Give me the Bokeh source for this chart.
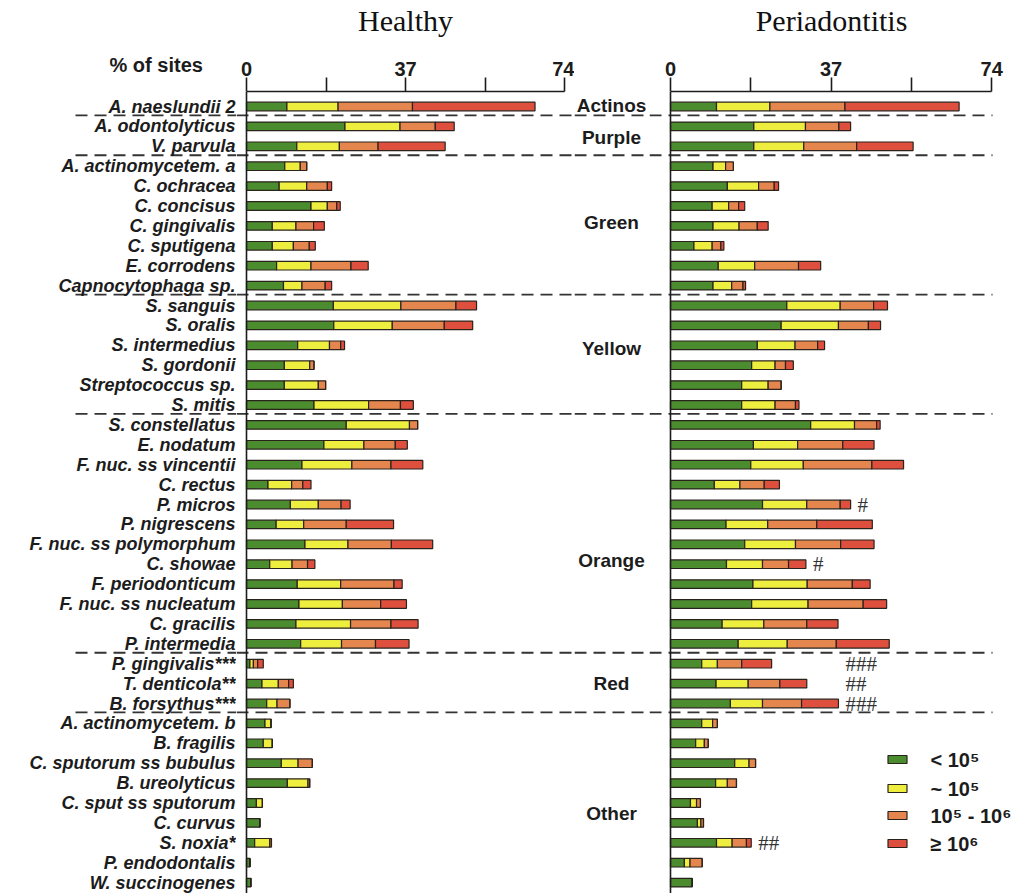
from bokeh.plotting import figure
from bokeh.models import Range1d, LinearAxis, FixedTicker, Span, ColumnDataSource
from bokeh.layouts import row
from bokeh.core.properties import value
from bokeh.embed import file_html
from bokeh.resources import INLINE

# ---------------- data ----------------
species = [
    "A. naeslundii 2", "A. odontolyticus", "V. parvula", "A. actinomycetem. a",
    "C. ochracea", "C. concisus", "C. gingivalis", "C. sputigena", "E. corrodens",
    "Capnocytophaga sp.", "S. sanguis", "S. oralis", "S. intermedius", "S. gordonii",
    "Streptococcus sp.", "S. mitis", "S. constellatus", "E. nodatum",
    "F. nuc. ss vincentii", "C. rectus", "P. micros", "P. nigrescens",
    "F. nuc. ss polymorphum", "C. showae", "F. periodonticum", "F. nuc. ss nucleatum",
    "C. gracilis", "P. intermedia", "P. gingivalis***", "T. denticola**",
    "B. forsythus***", "A. actinomycetem. b", "B. fragilis", "C. sputorum ss bubulus",
    "B. ureolyticus", "C. sput ss sputorum", "C. curvus", "S. noxia*",
    "P. endodontalis", "W. succinogenes",
]
groups = ["Actinos", "Purple", "Green", "Yellow", "Orange", "Red", "Other"]
group_sizes = [1, 2, 7, 6, 12, 3, 9]
panel_titles = ["Healthy", "Periadontitis"]
axis_title = "% of sites"
count_levels = ["< 10\u2075", "~  10\u2075", "10\u2075 - 10\u2076", "\u2265 10\u2076"]
axis_ticks = [0, 37, 74]
axis_minor_ticks = [18.5, 55.5]

# % of sites per count level, healthy subjects
healthy_lt5 = [9.4, 22.9, 11.7, 8.9, 7.6, 15.0, 6.0, 6.0, 7.0, 8.6,
               20.2, 20.3, 11.9, 8.8, 8.8, 15.7, 23.2, 18.0, 12.9, 5.0,
               10.2, 6.9, 13.6, 5.4, 11.8, 12.2, 11.5, 12.6, 0.8, 3.6,
               4.7, 4.3, 3.9, 8.1, 9.5, 2.3, 3.1, 1.9, 0.8, 1.0]
healthy_approx5 = [11.9, 12.8, 9.9, 3.6, 6.4, 3.8, 5.5, 4.9, 8.0, 4.3,
                   15.7, 13.6, 7.4, 5.9, 7.9, 12.7, 14.7, 9.3, 11.6, 5.5,
                   6.5, 6.4, 10.0, 5.2, 10.1, 10.1, 12.7, 9.5, 0.8, 3.8,
                   2.4, 1.4, 2.1, 3.9, 4.8, 1.4, 0.0, 3.5, 0.0, 0.0]
healthy_5to6 = [17.3, 8.2, 9.0, 1.5, 4.8, 2.2, 4.1, 3.7, 9.3, 5.4,
                12.8, 12.1, 2.6, 1.0, 1.7, 7.4, 1.9, 7.3, 9.1, 2.6,
                5.3, 9.9, 10.1, 3.6, 12.4, 8.9, 9.4, 7.9, 1.0, 2.4,
                3.0, 0.0, 0.0, 3.3, 0.4, 0.0, 0.0, 0.4, 0.0, 0.0]
healthy_ge6 = [28.5, 4.4, 15.6, 0.0, 1.0, 0.8, 2.5, 1.4, 4.0, 1.5,
               4.8, 6.6, 0.9, 0.0, 0.0, 3.0, 0.0, 2.8, 7.4, 1.9,
               2.1, 11.0, 9.6, 1.7, 1.9, 6.0, 6.3, 7.8, 1.3, 1.1,
               0.0, 0.0, 0.0, 0.0, 0.0, 0.0, 0.0, 0.0, 0.0, 0.0]

# % of sites per count level, periodontitis subjects
perio_lt5 = [10.6, 19.2, 19.2, 9.8, 13.1, 9.6, 9.8, 5.4, 11.0, 9.8,
             26.8, 25.5, 20.0, 18.7, 16.4, 16.4, 32.3, 19.1, 18.5, 10.1,
             21.2, 12.8, 17.1, 12.9, 19.0, 18.7, 11.9, 15.6, 7.2, 10.5,
             13.8, 7.2, 5.8, 14.8, 10.4, 4.6, 6.2, 10.6, 3.2, 5.0]
perio_approx5 = [12.3, 11.9, 11.5, 2.9, 7.2, 3.8, 6.0, 4.2, 8.4, 4.3,
                 12.3, 13.2, 8.7, 5.4, 6.1, 7.7, 10.1, 10.2, 12.1, 5.9,
                 10.2, 9.6, 11.7, 8.3, 12.5, 13.0, 9.6, 11.3, 3.6, 7.4,
                 7.4, 2.5, 2.0, 3.3, 2.7, 1.4, 0.8, 3.6, 1.3, 0.0]
perio_5to6 = [17.3, 7.7, 12.2, 1.8, 3.6, 2.3, 4.2, 2.0, 10.1, 2.6,
              7.7, 6.9, 5.2, 2.4, 3.0, 4.7, 5.1, 10.4, 15.8, 5.6,
              7.7, 11.3, 10.4, 6.0, 10.4, 12.7, 9.9, 11.3, 5.6, 7.3,
              9.0, 1.1, 0.9, 1.5, 2.1, 0.9, 0.6, 3.3, 2.8, 0.0]
perio_ge6 = [26.3, 2.7, 13.0, 0.0, 1.0, 1.4, 2.5, 0.7, 5.1, 0.6,
             3.2, 2.8, 1.6, 1.8, 0.0, 0.8, 0.8, 7.2, 7.3, 3.5,
             2.4, 12.8, 7.7, 4.0, 4.1, 5.4, 7.2, 12.2, 6.9, 6.2,
             8.5, 0.0, 0.0, 0.0, 0.0, 0.0, 0.0, 1.1, 0.0, 0.0]

# significance marks (periodontitis vs healthy)
perio_marks = {"P. micros": "#", "C. showae": "#", "P. gingivalis***": "###",
               "T. denticola**": "##", "B. forsythus***": "###", "S. noxia*": "##"}

# ---------------- layout / style ----------------
COLORS = ["#4b8c2e", "#eeee3e", "#e5864e", "#de4f3e"]
OUTLINE = "#2a231c"
INK = "#1c1c1c"
SANS = "Liberation Sans"
SERIF = "Liberation Serif"

# horizontal strips (px): species labels | healthy panel | group names | periodontitis panel
X_LAB, X_H, X_G, X_P, X_END = 0, 236, 574, 649, 1013
H_ZERO_PX, H_SCALE = 246, 4.30
P_ZERO_PX, P_SCALE = 670, 4.34
ROW0_PX, ROW_STEP = 106, 19.9
FRAME_TOP_PX, FRAME_BOTTOM_PX = 91, 893
BAR_H = 0.43
PCT_TICK = -21          # x (healthy units) where "% of sites" is centred
DASH = dict(line_color="#333333", line_width=1.8, line_dash="12 7")


def row_at(py):
    return (py - ROW0_PX) / ROW_STEP


def hx(px):
    return (px - H_ZERO_PX) / H_SCALE


def px_(px):
    return (px - P_ZERO_PX) / P_SCALE


def base_fig(x0_px, x1_px, xr):
    p = figure(width=x1_px - x0_px, height=FRAME_BOTTOM_PX, x_range=xr,
               y_range=Range1d(row_at(FRAME_BOTTOM_PX), row_at(FRAME_TOP_PX)),
               output_backend="svg", toolbar_location=None,
               x_axis_location=None, y_axis_location=None,
               min_border_left=0, min_border_right=0,
               min_border_top=FRAME_TOP_PX, min_border_bottom=0,
               outline_line_color=None, background_fill_color="white",
               border_fill_color="white")
    p.grid.visible = False
    return p


AX_STYLE = dict(major_tick_in=0, major_tick_out=14, minor_tick_in=0, minor_tick_out=14,
                major_label_standoff=2, major_label_text_font=SANS,
                major_label_text_font_style="bold", major_label_text_font_size="20px",
                major_label_text_color=INK)


def add_axis(p, title):
    ax = LinearAxis(ticker=FixedTicker(ticks=axis_ticks, minor_ticks=axis_minor_ticks),
                    bounds=(axis_ticks[0], axis_ticks[-1]),
                    axis_line_width=1.6, axis_line_color=INK,
                    major_tick_line_width=1.6, major_tick_line_color=INK,
                    minor_tick_line_width=1.6, minor_tick_line_color=INK,
                    axis_label=title, axis_label_text_font=SERIF,
                    axis_label_text_font_style="normal", axis_label_text_font_size="30px",
                    axis_label_text_color="#111111", axis_label_standoff=22, **AX_STYLE)
    p.add_layout(ax, "above")
    p.add_layout(Span(location=0, dimension="height", line_color=INK, line_width=1.6))


rows = list(range(len(species)))
sep_rows = []
acc = 0
for n in group_sizes[:-1]:
    acc += n
    sep_rows.append(acc - 0.55)
group_label_rows = [row_at(py) for py in (105, 137, 222, 348, 560, 683, 813)]


def add_bars(p, vals):
    src = ColumnDataSource(dict(row=rows, a=vals[0], b=vals[1], c=vals[2], d=vals[3]))
    p.hbar_stack(["a", "b", "c", "d"], y="row", height=BAR_H, fill_color=COLORS,
                 line_color=OUTLINE, line_width=1.2, source=src)


# ---------------- species labels strip ----------------
pL = base_fig(X_LAB, X_H, Range1d(hx(X_LAB), hx(X_H)))
ax_lab = LinearAxis(ticker=FixedTicker(ticks=[PCT_TICK], minor_ticks=[]),
                    major_label_overrides={PCT_TICK: axis_title},
                    axis_line_color=None, major_tick_line_color=None,
                    minor_tick_line_color=None, **AX_STYLE)
pL.add_layout(ax_lab, "above")
pL.segment(x0=hx(75), x1=hx(X_H), y0=sep_rows, y1=sep_rows, **DASH)
pL.text(x=hx(235), y=rows, text=species, text_align="right", text_baseline="middle",
        text_font=value(SANS), text_font_style="bold italic", text_font_size="18px",
        text_color=INK)

# ---------------- healthy panel ----------------
pH = base_fig(X_H, X_G, Range1d(hx(X_H), hx(X_G)))
add_axis(pH, panel_titles[0])
pH.segment(x0=hx(X_H), x1=hx(X_G), y0=sep_rows, y1=sep_rows, **DASH)
add_bars(pH, [healthy_lt5, healthy_approx5, healthy_5to6, healthy_ge6])

# ---------------- group names strip ----------------
pG = base_fig(X_G, X_P, Range1d(hx(X_G), hx(X_P)))
pG.segment(x0=hx(X_G), x1=hx(X_P), y0=sep_rows, y1=sep_rows, **DASH)
pG.text(x=hx(611), y=group_label_rows, text=groups, text_align="center",
        text_baseline="middle", text_font=value(SANS), text_font_style="bold",
        text_font_size="19px", text_color=INK)

# ---------------- periodontitis panel ----------------
pP = base_fig(X_P, X_END, Range1d(px_(X_P), px_(X_END)))
add_axis(pP, panel_titles[1])
pP.segment(x0=px_(X_P), x1=px_(992), y0=sep_rows, y1=sep_rows, **DASH)
pvals = [perio_lt5, perio_approx5, perio_5to6, perio_ge6]
add_bars(pP, pvals)

totals = [sum(v[i] for v in pvals) for i in rows]
red_start = sum(group_sizes[:5])
red_rows = range(red_start, red_start + group_sizes[5])
red_col = max(totals[i] for i in red_rows)
mk_x, mk_y, mk_t = [], [], []
for i, s in enumerate(species):
    if s in perio_marks:
        mk_x.append(red_col if i in red_rows else totals[i])
        mk_y.append(i)
        mk_t.append(perio_marks[s])
pP.text(x=mk_x, y=mk_y, text=mk_t, x_offset=7, text_align="left", text_baseline="middle",
        text_font=value(SERIF), text_font_size="21px", text_color="#333333")

# legend
leg_rows = [row_at(py) for py in (759, 788, 815, 843)]
pP.rect(x=[px_(897)] * 4, y=leg_rows, width=19, height=8,
        width_units="screen", height_units="screen", fill_color=COLORS,
        line_color=OUTLINE, line_width=1.2)
pP.text(x=[px_(930)] * 4, y=leg_rows, text=count_levels,
        text_align="left", text_baseline="middle", text_font=value(SANS),
        text_font_style="bold", text_font_size="20px", text_color=INK)

layout = row(pL, pH, pG, pP, spacing=0)
open("out.html", "w").write(file_html(layout, INLINE))
